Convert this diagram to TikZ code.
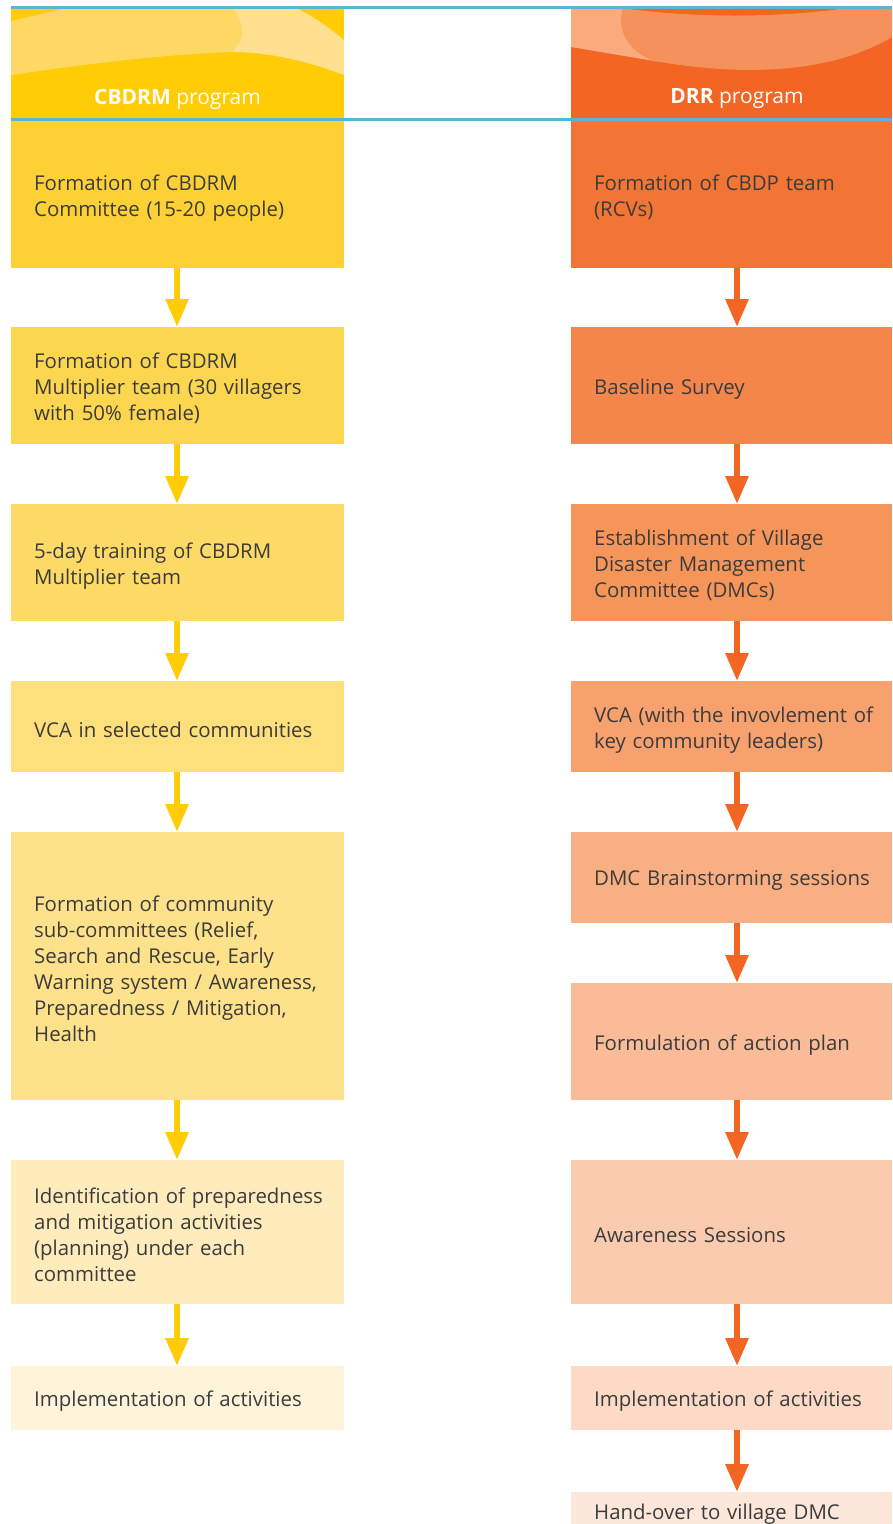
\documentclass[tikz,border=0pt]{standalone}
\usepackage{fontspec}
\setmainfont{Open Sans}
\usetikzlibrary{arrows.meta}
\definecolor{txt}{HTML}{3C3C3C}
\definecolor{yhead}{HTML}{FFCC05}
\definecolor{ymid}{HTML}{FDD865}
\definecolor{ylight}{HTML}{FEE08F}
\definecolor{ohead}{HTML}{F26522}
\definecolor{omid}{HTML}{F5915A}
\definecolor{olight}{HTML}{F9AB7E}
\definecolor{bline}{HTML}{5BB4D6}
\definecolor{lA}{HTML}{FDD136}
\definecolor{lB}{HTML}{FDD650}
\definecolor{lC}{HTML}{FDDA66}
\definecolor{lD}{HTML}{FDDF7B}
\definecolor{lE}{HTML}{FEE18B}
\definecolor{lF}{HTML}{FEECBD}
\definecolor{lG}{HTML}{FEF4DA}
\definecolor{rA}{HTML}{F37535}
\definecolor{rB}{HTML}{F4854B}
\definecolor{rC}{HTML}{F5955A}
\definecolor{rD}{HTML}{F7A16F}
\definecolor{rE}{HTML}{F9AF84}
\definecolor{rF}{HTML}{FABB98}
\definecolor{rG}{HTML}{FBCBAF}
\definecolor{rH}{HTML}{FDDAC6}
\definecolor{rI}{HTML}{FDE7DA}
\tikzset{
  lbox/.style={draw=none, minimum width=333pt, inner sep=0pt, anchor=north west},
  rbox/.style={lbox, minimum width=321pt},
  basetxt/.style={inner xsep=0pt, inner ysep=0pt, align=left, text=txt,
    font=\fontsize{20.4}{26}\selectfont, yshift=-3pt},
  ltxt/.style={basetxt, text width=310pt, xshift=11.5pt},
  rtxt/.style={basetxt, text width=300pt, xshift=12.5pt},
  yarr/.style={draw=yhead, line width=6pt, -{Triangle[width=22pt,length=28pt]}, shorten <=-0.5pt},
  oarr/.style={yarr, draw=ohead},
  htxt/.style={text=white, font=\fontsize{21}{26}\selectfont}
}
\begin{document}
\begin{tikzpicture}[x=1pt,y=-1pt]
\useasboundingbox (0,0) rectangle (892,1524);
% headers
\fill[yhead] (11,8) rectangle (344,119);
\fill[ymid] (11,21) -- (67,8) -- (233,8) .. controls (245,25) and (245,40) .. (232,52) .. controls (150,55) and (60,68) .. (11,75) -- cycle;
\fill[ylight] (233,8) -- (297,8) .. controls (315,18) and (330,28) .. (344,40) -- (344,75) .. controls (310,62) and (270,52) .. (232,52) .. controls (245,40) and (245,25) .. (233,8) -- cycle;
\fill[ohead] (571,8) rectangle (892,119);
\fill[omid] (623,8) .. controls (615,35) and (635,58) .. (660,62) .. controls (720,72) and (820,80) .. (892,37) -- (892,8) -- (847,8) .. controls (780,18) and (690,18) .. (623,8) -- cycle;
\fill[olight] (571,8) -- (623,8) .. controls (615,35) and (635,58) .. (660,62) -- (571,47) -- cycle;
\node[htxt] (hl) at (177.5,99) {\textbf{CBDRM} program};
\node[htxt] (hr) at (737,99) {\textbf{DRR} program};
\draw[bline, line width=3pt] (11,7) -- (892,7);
\draw[bline, line width=3pt] (11,119.5) -- (892,119.5);
% left column
\node[lbox, fill=lA, minimum height=147pt, label={[ltxt]center:Formation of CBDRM\\Committee (15-20 people)}] (l1) at (11,121) {};
\node[lbox, fill=lB, minimum height=117pt, label={[ltxt]center:Formation of CBDRM\\Multiplier team (30 villagers\\with 50\% female)}] (l2) at (11,327) {};
\node[lbox, fill=lC, minimum height=117pt, label={[ltxt]center:5-day training of CBDRM\\Multiplier team}] (l3) at (11,504) {};
\node[lbox, fill=lD, minimum height=91pt, label={[ltxt]center:VCA in selected communities}] (l4) at (11,681) {};
\node[lbox, fill=lE, minimum height=268pt, label={[ltxt]center:Formation of community\\sub-committees (Relief,\\Search and Rescue, Early\\Warning system / Awareness,\\Preparedness / Mitigation,\\Health}] (l5) at (11,832) {};
\node[lbox, fill=lF, minimum height=144pt, label={[ltxt]center:Identification of preparedness\\and mitigation activities\\(planning) under each\\committee}] (l6) at (11,1160) {};
\node[lbox, fill=lG, minimum height=64pt, label={[ltxt]center:Implementation of activities}] (l7) at (11,1366) {};
% right column
\node[rbox, fill=rA, minimum height=147pt, label={[rtxt]center:Formation of CBDP team\\(RCVs)}] (r1) at (571,121) {};
\node[rbox, fill=rB, minimum height=117pt, label={[rtxt]center:Baseline Survey}] (r2) at (571,327) {};
\node[rbox, fill=rC, minimum height=117pt, label={[rtxt]center:Establishment of Village\\Disaster Management\\Committee (DMCs)}] (r3) at (571,504) {};
\node[rbox, fill=rD, minimum height=91pt, label={[rtxt]center:VCA (with the invovlement of\\key community leaders)}] (r4) at (571,681) {};
\node[rbox, fill=rE, minimum height=91pt, label={[rtxt]center:DMC Brainstorming sessions}] (r5) at (571,832) {};
\node[rbox, fill=rF, minimum height=117pt, label={[rtxt]center:Formulation of action plan}] (r6) at (571,983) {};
\node[rbox, fill=rG, minimum height=144pt, label={[rtxt]center:Awareness Sessions}] (r7) at (571,1160) {};
\node[rbox, fill=rH, minimum height=64pt, label={[rtxt]center:Implementation of activities}] (r8) at (571,1366) {};
\node[rbox, fill=rI, minimum height=38pt, label={[rtxt]center:Hand-over to village DMC}] (r9) at (571,1492) {};
% arrows
\foreach \a/\b in {l1/l2,l2/l3,l3/l4,l4/l5,l5/l6,l6/l7}
  \draw[yarr] (\a.south -| 177,0) -- (\b.north -| 177,0);
\foreach \a/\b in {r1/r2,r2/r3,r3/r4,r4/r5,r5/r6,r6/r7,r7/r8,r8/r9}
  \draw[oarr] (\a.south -| 737,0) -- (\b.north -| 737,0);
\end{tikzpicture}
\end{document}
